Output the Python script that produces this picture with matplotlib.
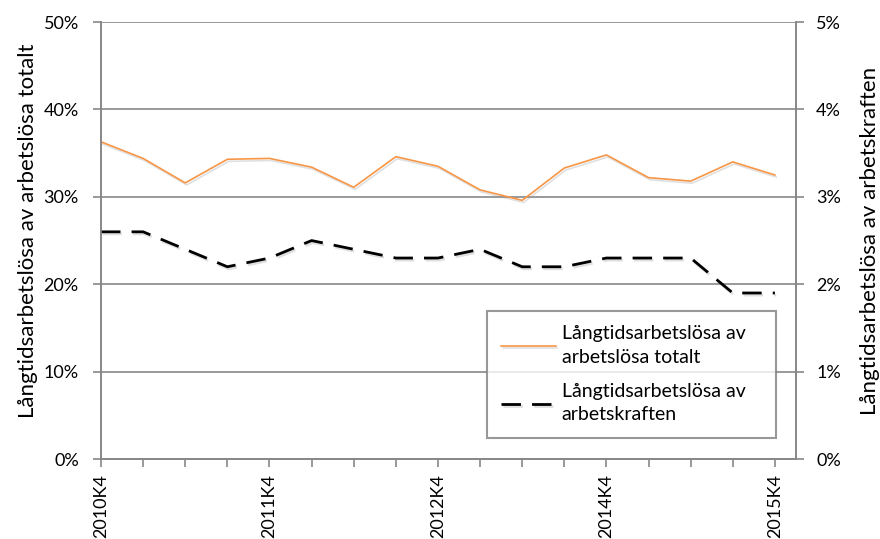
import numpy as np
import matplotlib.pyplot as plt
import matplotlib.patheffects as pe
from matplotlib.ticker import FuncFormatter

plt.rcParams['font.family'] = ['Lato', 'DejaVu Sans']

# kvartal, bara vart fjarde har etikett i originalet
tick_labels = ['2010K4', '', '', '', '2011K4', '', '', '', '2012K4',
               '', '', '', '2014K4', '', '', '', '2015K4']
# procent
av_totalt = [36.3, 34.4, 31.6, 34.3, 34.4, 33.4, 31.1, 34.6, 33.5,
             30.8, 29.6, 33.3, 34.8, 32.2, 31.8, 34.0, 32.5]
av_kraften = [2.6, 2.6, 2.4, 2.2, 2.3, 2.5, 2.4, 2.3, 2.3,
              2.4, 2.2, 2.2, 2.3, 2.3, 2.3, 1.9, 1.9]

lbl1 = 'Långtidsarbetslösa av\narbetslösa totalt'
lbl2 = 'Långtidsarbetslösa av\narbetskraften'

gray = '#878787'
x = np.arange(len(av_totalt))

fig = plt.figure(figsize=(8.8, 5.39), dpi=100)
ax = fig.add_axes([0.1148, 0.1484, 0.7897, 0.8106])
ax2 = ax.twinx()

shadow = [pe.SimpleLineShadow(offset=(1, -1.5), shadow_color='#999999', alpha=0.3), pe.Normal()]
l1, = ax.plot(x, av_totalt, color='#F79646', lw=1.2, path_effects=shadow, label=lbl1)
l2, = ax2.plot(x, av_kraften, color='black', lw=2.0, dashes=(7, 4), path_effects=shadow, label=lbl2)

ax.set_xlim(0, 16.5)
ax.set_ylim(0, 50)
ax2.set_ylim(0, 5)
ax.set_yticks(np.arange(0, 51, 10))
ax2.set_yticks(np.arange(0, 6, 1))
ax.yaxis.set_major_formatter(FuncFormatter(lambda v, p: '%d%%' % v))
ax2.yaxis.set_major_formatter(FuncFormatter(lambda v, p: '%d%%' % v))
ax.set_xticks(x)
ax.set_xticklabels(tick_labels, rotation=90, fontsize=13)

ax.grid(axis='y', color=gray, lw=1.2)
ax.set_axisbelow(True)
for a in (ax, ax2):
    a.spines['top'].set_visible(False)
    for s in ('left', 'right', 'bottom'):
        a.spines[s].set_color(gray)
        a.spines[s].set_linewidth(1.2)
    a.tick_params(axis='both', colors=gray, labelcolor='black', labelsize=13, length=6, width=1.2, direction='out')
ax.tick_params(axis='y', pad=10)
ax2.tick_params(axis='y', pad=8.5)
ax.tick_params(axis='x', pad=5)

ax.set_ylabel('Långtidsarbetslösa av arbetslösa totalt', fontsize=16)
ax.yaxis.set_label_coords(-0.0906, 0.522)
ax2.set_ylabel('Långtidsarbetslösa av arbetskraften', fontsize=16, rotation=90)
ax2.yaxis.set_label_coords(1.092, 0.5)

leg = ax2.legend(handles=[l1, l2], loc='lower left', bbox_to_anchor=(0.555, 0.048, 0.416, 0.31),
                 mode='expand', borderaxespad=0, fontsize=14, frameon=True, fancybox=False,
                 handlelength=2.8, borderpad=0.75, labelspacing=0.9, handletextpad=0.3)
for t in leg.get_texts():
    t.set_linespacing(1.45)
leg.get_frame().set_edgecolor('#7f7f7f')
leg.get_frame().set_linewidth(1.5)

fig.savefig('out.png', dpi=100)
